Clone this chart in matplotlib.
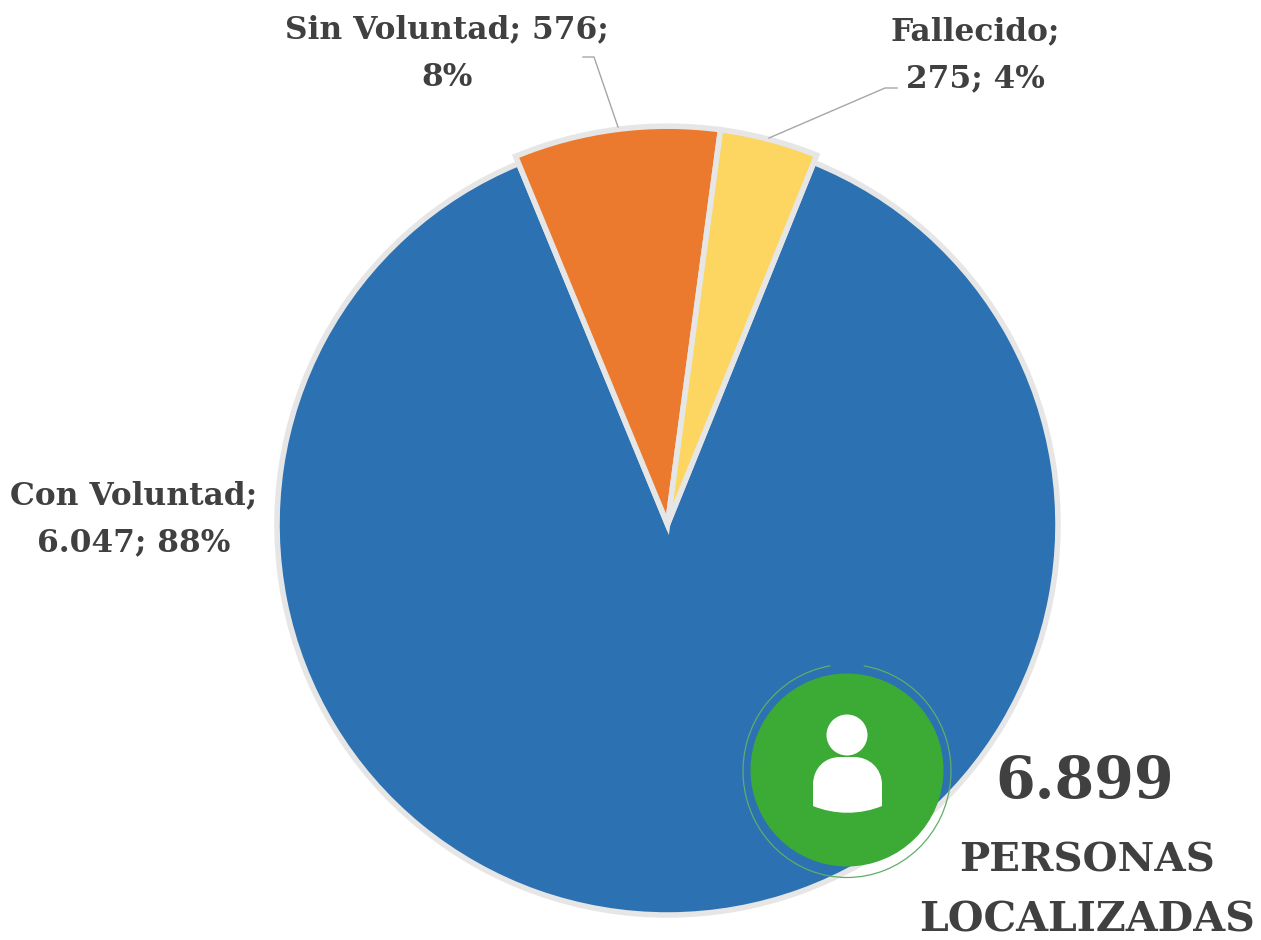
import matplotlib
matplotlib.use('Agg')
import matplotlib.pyplot as plt
from matplotlib.patches import Circle, Arc, PathPatch
from matplotlib.path import Path

plt.rcParams['font.family'] = ['DejaVu Serif']

# data
categories = ['Con Voluntad', 'Sin Voluntad', 'Fallecido']
values = [6047, 576, 275]
colors = ['#2c71b1', '#ec7a2e', '#fdd662']
label_lines = [['Con Voluntad;', '6.047; 88%'],
               ['Sin Voluntad; 576;', '8%'],
               ['Fallecido;', '275; 4%']]
total_label = '6.899'
total_text = ['PERSONAS', 'LOCALIZADAS']

W, H = 1261, 940
fig = plt.figure(figsize=(W / 100, H / 100), dpi=100)

# pie axes placed in pixels, with a margin for the two pulled out slices
cx, cy, r = 667.5, 524.5, 390.5
m = 1.04
pie_ax = fig.add_axes([(cx - r * m) / W, 1 - (cy + r * m) / H, 2 * r * m / W, 2 * r * m / H])
wedges, _ = pie_ax.pie(values, colors=colors, startangle=68, counterclock=False, radius=1,
                       wedgeprops=dict(edgecolor='#e6e6e6', linewidth=4))
wedges[1].set_radius(1.02)
wedges[2].set_radius(1.02)
pie_ax.set_xlim(-m, m)
pie_ax.set_ylim(-m, m)
pie_ax.set_aspect('equal')
pie_ax.axis('off')

# overlay on top of pie, pixel coordinates
top = fig.add_axes([0, 0, 1, 1])
top.set_xlim(0, W)
top.set_ylim(H, 0)
top.axis('off')
top.patch.set_alpha(0)

text_color = '#404040'
fs = 22.5
label_pos = [(134, 496, 543), (447, 30, 77), (975, 32, 79)]
for lines, (x, y1, y2) in zip(label_lines, label_pos):
    top.text(x, y1, lines[0], ha='center', va='center', fontsize=fs,
             fontweight='bold', color=text_color)
    top.text(x, y2, lines[1], ha='center', va='center', fontsize=fs,
             fontweight='bold', color=text_color)

# leader lines
top.plot([583, 594, 618], [57, 57, 127], color='#a6a6a6', lw=1)
top.plot([769, 885, 897], [138, 88, 88], color='#a6a6a6', lw=1)

# green badge
gx, gy = 847, 770
top.add_patch(Circle((gx, gy), 96.5, color='#3bab35', ec='none', zorder=5))
top.add_patch(Arc((gx, gy + 1), 208, 213, angle=0, theta1=-81, theta2=261,
                  color='#5fae68', lw=0.9, zorder=5))

# person icon
top.add_patch(Circle((847, 735), 20.5, color='white', ec='none', zorder=6))
body = Path([(813, 806), (813, 785),
             (813, 768), (825, 757), (840, 757),
             (854, 757),
             (869, 757), (882, 768), (882, 785),
             (882, 806),
             (860, 815), (835, 815), (813, 806)],
            [Path.MOVETO, Path.LINETO,
             Path.CURVE4, Path.CURVE4, Path.CURVE4,
             Path.LINETO,
             Path.CURVE4, Path.CURVE4, Path.CURVE4,
             Path.LINETO,
             Path.CURVE4, Path.CURVE4, Path.CURVE4])
top.add_patch(PathPatch(body, facecolor='white', edgecolor='none', zorder=6))

top.text(1085, 782, total_label, ha='center', va='center', fontsize=41,
         fontweight='bold', color=text_color)
top.text(1087, 860, total_text[0], ha='center', va='center', fontsize=29,
         fontweight='bold', color=text_color)
top.text(1087, 921, total_text[1], ha='center', va='center', fontsize=29.5,
         fontweight='bold', color=text_color)

fig.savefig('out.png', dpi=100)
